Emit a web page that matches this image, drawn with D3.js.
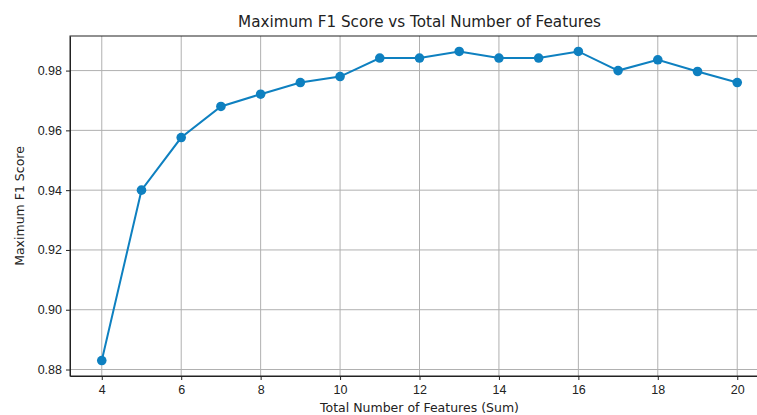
<!DOCTYPE html>
<html>
<head>
<meta charset="utf-8">
<script src="https://cdn.jsdelivr.net/npm/d3@7.9.0/dist/d3.min.js"></script>
<style>
  body { margin: 0; background: #fff; }
  svg { display: block; font-family: "DejaVu Sans", sans-serif; }
  .grid line { stroke: #b0b0b0; stroke-width: 1; }
  .axis text { font-size: 12.5px; fill: #222; }
  .axis path, .axis line { stroke: #222; }
</style>
</head>
<body>
<svg id="chart" width="757" height="415"></svg>
<script>
// data
const features = [4, 5, 6, 7, 8, 9, 10, 11, 12, 13, 14, 15, 16, 17, 18, 19, 20];
const f1Scores = [0.883, 0.940, 0.9576, 0.968, 0.9721, 0.976, 0.978, 0.9842, 0.9842,
                  0.9864, 0.9842, 0.9842, 0.9864, 0.980, 0.9836, 0.9797, 0.976];
const xTicks = [4, 6, 8, 10, 12, 14, 16, 18, 20];
const yTicks = [0.88, 0.90, 0.92, 0.94, 0.96, 0.98];

const data = features.map((f, i) => ({ x: f, y: f1Scores[i] }));

const plotL = 70, plotR = 769, plotT = 36, plotB = 376;
const color = "#0e80c0";

const svg = d3.select("#chart");

// matplotlib-style 5% margins
const xPad = (d3.max(features) - d3.min(features)) * 0.05;
const yPad = (d3.max(f1Scores) - d3.min(f1Scores)) * 0.05;

const x = d3.scaleLinear()
  .domain([d3.min(features) - xPad, d3.max(features) + xPad])
  .range([plotL, plotR]);

const y = d3.scaleLinear()
  .domain([d3.min(f1Scores) - yPad, d3.max(f1Scores) + yPad])
  .range([plotB, plotT]);

// grid
const grid = svg.append("g").attr("class", "grid");
grid.selectAll(".gx").data(xTicks).join("line")
  .attr("x1", d => x(d)).attr("x2", d => x(d))
  .attr("y1", plotT).attr("y2", plotB);
grid.selectAll(".gy").data(yTicks).join("line")
  .attr("x1", plotL).attr("x2", plotR)
  .attr("y1", d => y(d)).attr("y2", d => y(d));

// axes
svg.append("g")
  .attr("class", "axis")
  .attr("transform", `translate(0,${plotB})`)
  .call(d3.axisBottom(x).tickValues(xTicks).tickFormat(d3.format("d")).tickSize(4).tickPadding(5).tickSizeOuter(0));

svg.append("g")
  .attr("class", "axis")
  .attr("transform", `translate(${plotL},0)`)
  .call(d3.axisLeft(y).tickValues(yTicks).tickFormat(d3.format(".2f")).tickSize(4).tickPadding(4).tickSizeOuter(0));

// spines
svg.append("rect")
  .attr("x", plotL).attr("y", plotT)
  .attr("width", plotR - plotL).attr("height", plotB - plotT)
  .attr("fill", "none").attr("stroke", "#222").attr("stroke-width", 1);

// line + markers
const line = d3.line().x(d => x(d.x)).y(d => y(d.y));
svg.append("path")
  .datum(data)
  .attr("d", line)
  .attr("fill", "none")
  .attr("stroke", color)
  .attr("stroke-width", 2);

svg.selectAll(".dot").data(data).join("circle")
  .attr("cx", d => x(d.x))
  .attr("cy", d => y(d.y))
  .attr("r", 4.8)
  .attr("fill", color);

// titles
const cx = (plotL + plotR) / 2;
svg.append("text")
  .attr("x", cx).attr("y", 27)
  .attr("text-anchor", "middle")
  .attr("font-size", 15.2).attr("fill", "#222")
  .text("Maximum F1 Score vs Total Number of Features");

svg.append("text")
  .attr("x", cx).attr("y", 412)
  .attr("text-anchor", "middle")
  .attr("font-size", 12.5).attr("fill", "#222")
  .text("Total Number of Features (Sum)");

svg.append("text")
  .attr("transform", `translate(24,${(plotT + plotB) / 2}) rotate(-90)`)
  .attr("text-anchor", "middle")
  .attr("font-size", 12.5).attr("fill", "#222")
  .text("Maximum F1 Score");
</script>
</body>
</html>
